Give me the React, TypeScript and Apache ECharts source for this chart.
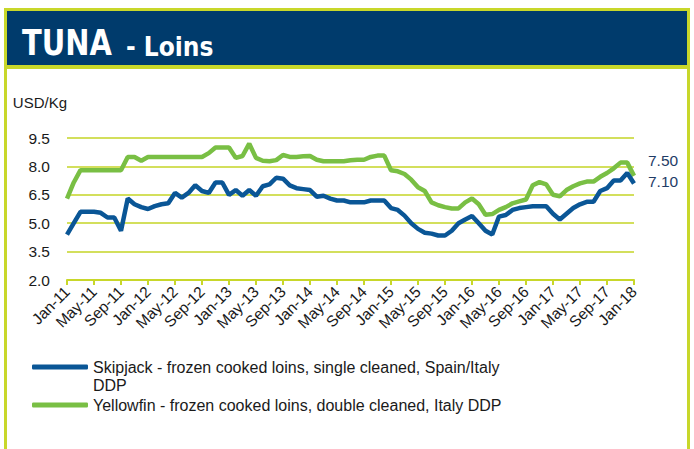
import React, { useEffect, useRef } from "react";
import * as echarts from "echarts";

const monthNames = ["Jan", "Feb", "Mar", "Apr", "May", "Jun", "Jul", "Aug", "Sep", "Oct", "Nov", "Dec"];
const years = ["11", "12", "13", "14", "15", "16", "17", "18"];
const categories: string[] = [];
years.forEach((y) => monthNames.forEach((m) => { if (categories.length < 85) categories.push(`${m}-${y}`); }));

const skipjack = [
  4.4, 5.0, 5.6, 5.6, 5.6, 5.55, 5.3, 5.3, 4.6, 6.3, 6.0, 5.85,
  5.75, 5.9, 6.0, 6.05, 6.6, 6.35, 6.6, 7.0, 6.7, 6.6, 7.15, 7.15,
  6.5, 6.75, 6.45, 6.75, 6.45, 6.95, 7.05, 7.4, 7.35, 7.0, 6.85, 6.8,
  6.75, 6.4, 6.45, 6.3, 6.2, 6.2, 6.1, 6.1, 6.1, 6.2, 6.2, 6.2,
  5.8, 5.7, 5.4, 5.0, 4.7, 4.5, 4.45, 4.35, 4.35, 4.6, 5.0, 5.2,
  5.38, 5.0, 4.6, 4.4, 5.35, 5.43, 5.7, 5.8, 5.85, 5.9, 5.9, 5.9,
  5.5, 5.2, 5.5, 5.8, 6.0, 6.13, 6.13, 6.7, 6.85, 7.25, 7.25, 7.65,
  7.1,
];

const yellowfin = [
  6.3, 7.15, 7.8, 7.8, 7.8, 7.8, 7.8, 7.8, 7.8, 8.5, 8.5, 8.3,
  8.5, 8.5, 8.5, 8.5, 8.5, 8.5, 8.5, 8.5, 8.5, 8.7, 9.0, 9.0,
  9.0, 8.45, 8.55, 9.2, 8.45, 8.3, 8.27, 8.33, 8.6, 8.5, 8.5, 8.53,
  8.55, 8.35, 8.27, 8.27, 8.27, 8.27, 8.32, 8.35, 8.35, 8.5, 8.57, 8.57,
  7.8, 7.74, 7.6, 7.3, 6.9, 6.7, 6.1, 5.95, 5.85, 5.78, 5.78, 6.1,
  6.3, 6.0, 5.45, 5.48, 5.7, 5.85, 6.05, 6.15, 6.25, 7.0, 7.17, 7.05,
  6.5, 6.42, 6.75, 6.95, 7.1, 7.2, 7.2, 7.45, 7.65, 7.9, 8.2, 8.2,
  7.5,
];

const seriesNames = [
  "Skipjack - frozen cooked loins, single cleaned, Spain/Italy DDP",
  "Yellowfin - frozen cooked loins, double cleaned, Italy DDP",
];
const endLabels = ["7.10", "7.50"];

const BLUE = "#0a5696";
const GREEN = "#79bf44";
const NAVY = "#003b6c";
const FRAME = "#c8d72a";
const GRID = "#d3df5c";
const FONT = "'Liberation Sans', Arial, sans-serif";
const TITLE_FONT = "'DejaVu Sans Condensed', 'Liberation Sans Narrow', sans-serif";

const legendBase = {
  orient: "vertical",
  left: 32,
  padding: 0,
  itemGap: 0,
  itemWidth: 56,
  itemHeight: 5,
  icon: "roundRect",
};

export default function App() {
  const ref = useRef<HTMLDivElement>(null);
  useEffect(() => {
    if (!ref.current) return;
    const chart = echarts.init(ref.current, undefined, { renderer: "svg" });
    chart.setOption({
      animation: false,
      backgroundColor: "#ffffff",
      grid: { left: 67, right: 60, top: 138, bottom: 169, containLabel: false },
      graphic: [
        { type: "rect", z: 1, shape: { x: 5.5, y: 9.5, width: 683, height: 460 }, style: { fill: "none", stroke: FRAME, lineWidth: 3 } },
        { type: "rect", z: 2, shape: { x: 7, y: 11, width: 680, height: 55 }, style: { fill: NAVY } },
        { type: "rect", z: 2, shape: { x: 7, y: 65, width: 680, height: 4 }, style: { fill: FRAME } },
        { type: "text", z: 3, x: 22, y: 61, scaleX: 0.92, style: { text: "TUNA", fill: "#ffffff", font: `bold 35px ${TITLE_FONT}`, verticalAlign: "bottom" } },
        { type: "text", z: 3, x: 126, y: 59.5, style: { text: "- Loins", fill: "#ffffff", font: `bold 26px ${TITLE_FONT}`, verticalAlign: "bottom" } },
      ],
      legend: [
        {
          ...legendBase,
          top: 340,
          textStyle: { fontFamily: FONT, fontSize: 16, color: "#1a1a1a", lineHeight: 18 },
          formatter: (name: string) => "\n" + name.replace(" DDP", "\nDDP"),
          data: [seriesNames[0]],
        },
        {
          ...legendBase,
          top: 396,
          textStyle: { fontFamily: FONT, fontSize: 16, color: "#1a1a1a", lineHeight: 18 },
          data: [seriesNames[1]],
        },
      ],
      xAxis: {
        type: "category",
        data: categories,
        boundaryGap: false,
        axisLine: { lineStyle: { color: FRAME, width: 2 } },
        axisTick: { show: true, interval: 3, length: 5, lineStyle: { color: FRAME, width: 2 } },
        axisLabel: { interval: 3, rotate: 45, fontFamily: FONT, fontSize: 15.5, color: "#1a1a1a", margin: 9 },
        splitLine: { show: false },
      },
      yAxis: {
        type: "value",
        min: 2,
        max: 9.5,
        interval: 1.5,
        name: "USD/Kg",
        nameLocation: "end",
        nameGap: 28,
        nameTextStyle: { fontFamily: FONT, fontSize: 15, color: "#1a1a1a", align: "right" },
        axisLine: { show: false },
        axisTick: { show: false },
        axisLabel: { fontFamily: FONT, fontSize: 15.5, color: "#1a1a1a", margin: 17, formatter: (v: number) => v.toFixed(1) },
        splitLine: { lineStyle: { color: GRID, width: 2 } },
      },
      series: [
        {
          name: seriesNames[0],
          type: "line",
          data: skipjack,
          showSymbol: false,
          symbol: "none",
          lineStyle: { color: BLUE, width: 4.5 },
          itemStyle: { color: BLUE },
          z: 3,
          endLabel: { show: true, formatter: endLabels[0], color: "#1f3c66", fontFamily: FONT, fontSize: 15.5, offset: [6, -2] },
        },
        {
          name: seriesNames[1],
          type: "line",
          data: yellowfin,
          showSymbol: false,
          symbol: "none",
          lineStyle: { color: GREEN, width: 4.5 },
          itemStyle: { color: GREEN },
          z: 2,
          endLabel: { show: true, formatter: endLabels[1], color: "#1f3c66", fontFamily: FONT, fontSize: 15.5, offset: [6, -15] },
        },
      ],
    });
    return () => chart.dispose();
  }, []);
  return <div ref={ref} style={{ position: "fixed", left: 0, top: 0, width: 694, height: 449 }} />;
}
